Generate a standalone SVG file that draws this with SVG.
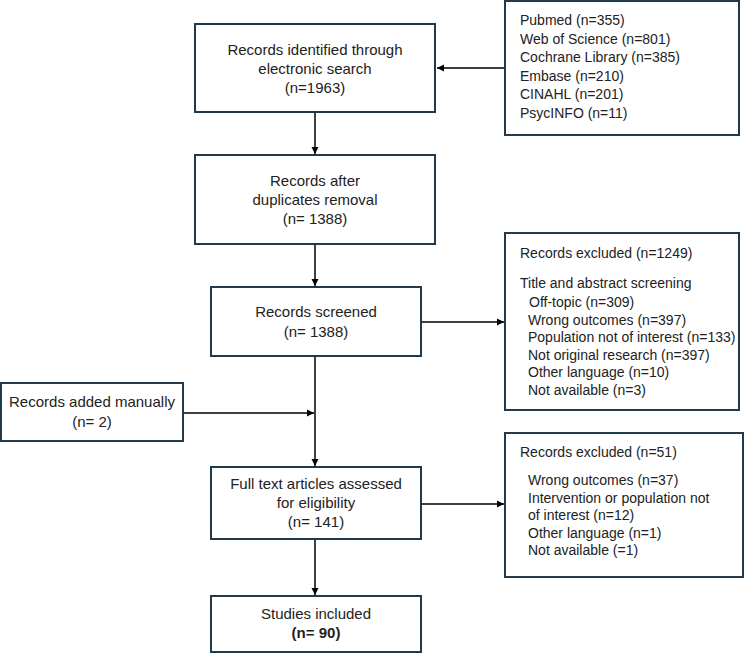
<svg xmlns="http://www.w3.org/2000/svg" width="745" height="653" viewBox="0 0 745 653">
<defs>
<style>
.box{fill:#fff;stroke:#203a4c;stroke-width:2}
.t{font-family:"Liberation Sans",Arial,sans-serif;font-size:15px;fill:#222;text-anchor:middle}
.l{font-family:"Liberation Sans",Arial,sans-serif;font-size:14px;fill:#222}
.c{fill:none;stroke:#000;stroke-width:1.5}
</style>
<marker id="ah" markerWidth="8" markerHeight="8" refX="7" refY="4" orient="auto" markerUnits="userSpaceOnUse">
<path d="M0,0.5 L7,4 L0,7.5 Z" fill="#000"/>
</marker>
</defs>
<rect width="745" height="653" fill="#fff"/>
<g id="connectors">
<line class="c" x1="505" y1="68" x2="437" y2="68" marker-end="url(#ah)"/>
<line class="c" x1="315" y1="112" x2="315" y2="154" marker-end="url(#ah)"/>
<line class="c" x1="315" y1="244" x2="315" y2="286" marker-end="url(#ah)"/>
<line class="c" x1="421" y1="322" x2="504" y2="322" marker-end="url(#ah)"/>
<line class="c" x1="315" y1="356" x2="315" y2="466" marker-end="url(#ah)"/>
<line class="c" x1="183" y1="413" x2="314" y2="413" marker-end="url(#ah)"/>
<line class="c" x1="421" y1="504" x2="504" y2="504" marker-end="url(#ah)"/>
<line class="c" x1="315" y1="539" x2="315" y2="595" marker-end="url(#ah)"/>
</g>
<g id="sources">
<rect class="box" x="505" y="1" width="234" height="134"/>
<text class="l" x="520" y="25">Pubmed (n=355)</text>
<text class="l" x="520" y="43.5">Web of Science (n=801)</text>
<text class="l" x="520" y="62">Cochrane Library (n=385)</text>
<text class="l" x="520" y="80.5">Embase (n=210)</text>
<text class="l" x="520" y="99">CINAHL (n=201)</text>
<text class="l" x="520" y="117.5">PsycINFO (n=11)</text>
</g>
<g id="identified">
<rect class="box" x="195" y="24" width="240" height="88"/>
<text class="t" x="315" y="55">Records identified through</text>
<text class="t" x="315" y="74">electronic search</text>
<text class="t" x="315" y="93">(n=1963)</text>
</g>
<g id="duplicates">
<rect class="box" x="195" y="155" width="240" height="89"/>
<text class="t" x="315" y="186">Records after</text>
<text class="t" x="315" y="205">duplicates removal</text>
<text class="t" x="315" y="224">(n= 1388)</text>
</g>
<g id="screened">
<rect class="box" x="211" y="287" width="210" height="69"/>
<text class="t" x="316" y="317">Records screened</text>
<text class="t" x="316" y="337">(n= 1388)</text>
</g>
<g id="excluded1">
<rect class="box" x="505" y="233" width="234" height="177"/>
<text class="l" x="520" y="258">Records excluded (n=1249)</text>
<text class="l" x="520" y="288">Title and abstract screening</text>
<text class="l" x="529" y="307">Off-topic (n=309)</text>
<text class="l" x="528" y="324.5">Wrong outcomes (n=397)</text>
<text class="l" x="528" y="342">Population not of interest (n=133)</text>
<text class="l" x="528" y="359.5">Not original research (n=397)</text>
<text class="l" x="528" y="377">Other language (n=10)</text>
<text class="l" x="528" y="394.5">Not available (n=3)</text>
</g>
<g id="manual">
<rect class="box" x="1" y="383" width="182" height="58"/>
<text class="t" x="92" y="407">Records added manually</text>
<text class="t" x="92" y="427">(n= 2)</text>
</g>
<g id="fulltext">
<rect class="box" x="211" y="467" width="210" height="72"/>
<text class="t" x="316" y="489">Full text articles assessed</text>
<text class="t" x="316" y="508">for eligibility</text>
<text class="t" x="316" y="527">(n= 141)</text>
</g>
<g id="excluded2">
<rect class="box" x="505" y="433" width="238" height="144"/>
<text class="l" x="520" y="457">Records excluded (n=51)</text>
<text class="l" x="528" y="485">Wrong outcomes (n=37)</text>
<text class="l" x="528" y="502.5">Intervention or population not</text>
<text class="l" x="528" y="520">of interest (n=12)</text>
<text class="l" x="528" y="537.5">Other language (n=1)</text>
<text class="l" x="528" y="555">Not available (=1)</text>
</g>
<g id="included">
<rect class="box" x="211" y="596" width="210" height="56"/>
<text class="t" x="316" y="619">Studies included</text>
<text class="t" x="316" y="638" font-weight="bold">(n= 90)</text>
</g>
</svg>
